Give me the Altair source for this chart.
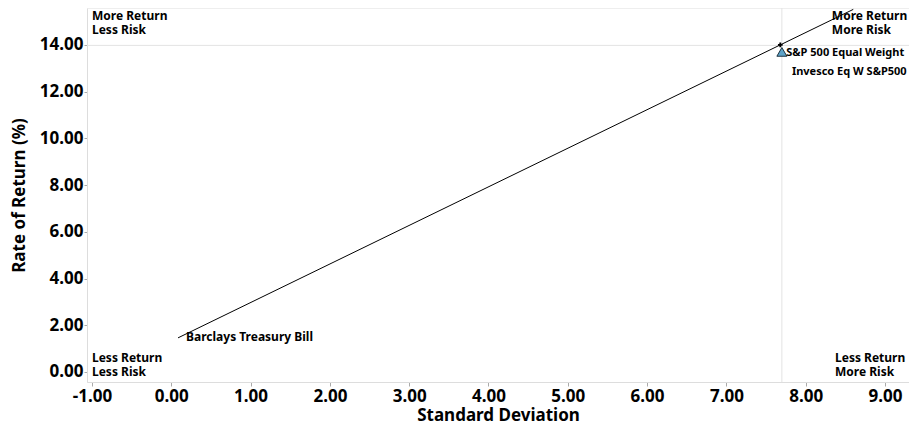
import altair as alt
import pandas as pd

# --- data ---
point_names = ["S&P 500 Equal Weight", "Invesco Eq W S&P500", "Barclays Treasury Bill"]
point_std = [7.68, 7.70, 0.085]
point_ret = [14.00, 13.70, 1.46]
point_shape = ["cross", "triangle", "none"]

cml_std = [0.085, 8.60]
cml_ret = [1.46, 15.52]

bench_std = 7.70
bench_ret = 13.98

corner_text = ["More Return\nLess Risk", "More Return\nMore Risk", "Less Return\nLess Risk", "Less Return\nMore Risk"]
corner_std = [-1.0, 8.33, -1.0, 8.37]
corner_ret = [15.24, 15.24, 0.58, 0.58]

x_ticks = [-1, 0, 1, 2, 3, 4, 5, 6, 7, 8, 9]
y_ticks = [0, 2, 4, 6, 8, 10, 12, 14]

FONT = "Noto Sans"
X_DOM = [-1.063, 9.303]
Y_DOM = [-0.43, 15.58]

pts = pd.DataFrame({"name": point_names, "std": point_std, "ret": point_ret, "shape": point_shape})
cml = pd.DataFrame({"std": cml_std, "ret": cml_ret})
corners = pd.DataFrame({"label": corner_text, "std": corner_std, "ret": corner_ret})

xs = alt.Scale(domain=X_DOM, nice=False, zero=False)
ys = alt.Scale(domain=Y_DOM, nice=False, zero=False)

LBL = "replace(format(datum.value, '.2f'), '\u2212', '-')"

x_axis = alt.Axis(values=x_ticks, labelExpr=LBL, title="Standard Deviation", grid=False,
                  labelFontSize=17, labelFontWeight="bold", labelColor="black",
                  titleFontSize=17, titleFontWeight="bold", titleColor="black",
                  domainColor="#dddddd", tickColor="#aaaaaa", tickSize=4,
                  labelPadding=2, titlePadding=3, labelFlush=False)
y_axis = alt.Axis(values=y_ticks, labelExpr=LBL, title="Rate of Return (%)", grid=False,
                  labelFontSize=17, labelFontWeight="bold", labelColor="black",
                  titleFontSize=17, titleFontWeight="bold", titleColor="black",
                  domainColor="#dddddd", tickColor="#aaaaaa", tickSize=3,
                  labelPadding=1, titlePadding=11, labelFlush=False)

base_x = alt.X("std:Q", scale=xs, axis=x_axis)
base_y = alt.Y("ret:Q", scale=ys, axis=y_axis)

vrule = alt.Chart(pd.DataFrame({"std": [bench_std]})).mark_rule(color="#e3e3e3", strokeWidth=1).encode(
    x=alt.X("std:Q", scale=xs, axis=x_axis))
hrule = alt.Chart(pd.DataFrame({"ret": [bench_ret]})).mark_rule(color="#e3e3e3", strokeWidth=1).encode(
    y=alt.Y("ret:Q", scale=ys, axis=y_axis))

line = alt.Chart(cml).mark_line(color="black", strokeWidth=1).encode(x=base_x, y=base_y)

cross = alt.Chart(pts).transform_filter(alt.datum.shape == "cross").mark_point(
    shape="cross", size=22, color="black", filled=True, opacity=1).encode(x=base_x, y=base_y)
tri = alt.Chart(pts).transform_filter(alt.datum.shape == "triangle").mark_point(
    shape="triangle-up", size=100, filled=True, fill="#5ea3c8", stroke="#1d3340", strokeWidth=1, opacity=1).encode(
    x=base_x, y=base_y)

lbl_style = dict(font=FONT, fontSize=11, fontWeight="bold", color="black", align="left", baseline="middle")
lbl1 = alt.Chart(pts).transform_filter(alt.datum.name == "S&P 500 Equal Weight").mark_text(
    dx=6, dy=8, **lbl_style).encode(x=base_x, y=base_y, text="name:N")
lbl2 = alt.Chart(pts).transform_filter(alt.datum.name == "Invesco Eq W S&P500").mark_text(
    dx=10, dy=20, **lbl_style).encode(x=base_x, y=base_y, text="name:N")
lbl3 = alt.Chart(pts).transform_filter(alt.datum.name == "Barclays Treasury Bill").mark_text(
    dx=8, dy=-1, font=FONT, fontSize=12, fontWeight="bold", color="black", align="left",
    baseline="middle").encode(x=base_x, y=base_y, text="name:N")

corner = alt.Chart(corners).mark_text(font=FONT, fontSize=12, fontWeight="bold", color="black",
                                      align="left", baseline="middle", lineBreak="\n", lineHeight=14).encode(
    x=base_x, y=base_y, text="label:N")

chart = alt.layer(vrule, hrule, line, cross, tri, lbl1, lbl2, lbl3, corner).properties(
    width=822, height=374,
    autosize=alt.AutoSizeParams(type="none"),
    padding={"left": 79, "top": 0, "right": 0, "bottom": 41},
).configure(font=FONT).configure_view(stroke="#eeeeee")

chart.save("out.html", embed_options={"renderer": "svg", "actions": False})
